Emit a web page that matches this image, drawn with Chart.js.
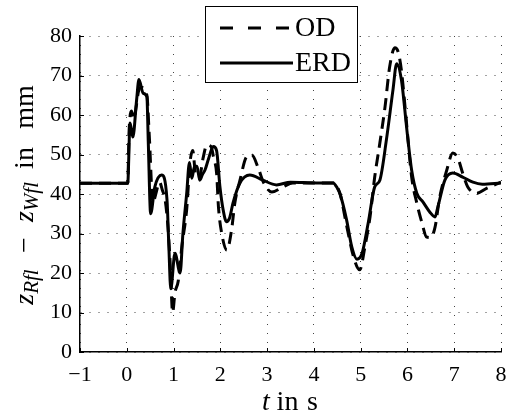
<!DOCTYPE html>
<html>
<head>
<meta charset="utf-8">
<script src="https://cdn.jsdelivr.net/npm/chart.js@4.4.1/dist/chart.umd.min.js"></script>
<style>
    html, body { margin: 0; padding: 0; background: #fff; }
    #wrap { width: 508px; height: 414px; }
</style>
</head>
<body>
<div id="wrap"><canvas id="plot" width="508" height="414"></canvas></div>
<script>
/* ==========================================================
   Suspension travel: OD vs ERD
========================================================== */

const xTicks = [-1, 0, 1, 2, 3, 4, 5, 6, 7, 8];
const yTicks = [0, 10, 20, 30, 40, 50, 60, 70, 80];

const seriesLabels = ["OD", "ERD"];

// OD (dashed)
const odT = [-1, 0.02, 0.05, 0.1, 0.15, 0.2, 0.25, 0.3, 0.43, 0.48, 0.56, 0.62, 0.7, 0.76, 0.82, 0.88, 0.93, 0.98,
    1.03, 1.1, 1.18, 1.28, 1.35, 1.41, 1.47, 1.55, 1.63, 1.71, 1.8, 1.86, 1.92, 1.96, 2.03, 2.14, 2.24, 2.31, 2.42,
    2.56, 2.67, 2.81, 2.92, 3.1, 3.34, 3.55, 4.41, 4.56, 4.7, 4.85, 4.98, 5.09, 5.2, 5.3, 5.41, 5.52, 5.62, 5.73,
    5.8, 5.87, 5.98, 6.09, 6.2, 6.31, 6.41, 6.5, 6.59, 6.69, 6.84, 6.97, 7.08, 7.18, 7.29, 7.48, 7.7, 8];
const odV = [42.7, 42.7, 56, 61, 59, 62, 66, 67, 65, 55, 37.7, 40, 43, 41, 38.5, 31.7, 22, 10,
    15, 18, 27, 36, 47.8, 51, 45, 44, 49, 52.4, 52, 49, 45.3, 36.7, 30, 25.8, 30.9, 37.7, 43.5,
    49.4, 49.9, 46.6, 43, 40.5, 41.8, 42.8, 42.8, 40, 32, 24, 20.8, 26.6, 34.2, 44.3, 52.9, 62, 72.2, 77,
    76, 71.4, 58, 44.3, 37.7, 32.7, 29.1, 29, 31.6, 39.2, 46, 50.4, 49, 45.3, 41.8, 40.2, 41.5, 43];

// ERD (solid)
const erdT = [-1, 0.02, 0.07, 0.13, 0.21, 0.26, 0.35, 0.43, 0.46, 0.51, 0.6, 0.745, 0.86, 0.9, 0.94, 1.03, 1.14,
    1.2, 1.28, 1.34, 1.39, 1.45, 1.5, 1.56, 1.62, 1.67, 1.75, 1.85, 1.92, 1.99, 2.06, 2.13, 2.2, 2.27, 2.42, 2.63,
    2.91, 3.2, 3.5, 4.06, 4.41, 4.5, 4.56, 4.7, 4.81, 4.92, 5.03, 5.16, 5.3, 5.41, 5.55, 5.69, 5.77, 5.87, 5.99,
    6.09, 6.2, 6.33, 6.48, 6.59, 6.65, 6.8, 6.97, 7.18, 7.4, 7.6, 8];
const erdV = [42.7, 42.7, 58, 54.4, 63.8, 69, 65.5, 64.6, 53, 35, 41.8, 44.8, 38.5, 26.6, 16, 25, 20,
    30, 40, 48, 44, 47, 47, 43.5, 45, 46, 49, 52, 51, 42, 36, 33, 34, 37.7, 42.8, 44.8,
    43.5, 42.3, 43, 42.8, 42.8, 41.5, 40, 33.4, 26.6, 23.5, 25, 32.6, 41.8, 43.5, 53.7, 66.3, 73, 69, 56,
    46, 40.2, 38, 35.4, 34.2, 36.7, 43.5, 45.3, 44.3, 43, 42.5, 42.8];

const toPoints = (ts, vs) => ts.map((t, i) => ({ x: t, y: vs[i] }));

const SERIF = "'Liberation Serif', 'DejaVu Serif', serif";
const DASH = [12, 7];

const fmtTick = (v) => (v < 0 ? "\u2212" + Math.abs(v) : String(v));

// axis titles: italic math with subscripts, pieces spaced like the LaTeX original
const titlesPlugin = {
    id: "mathTitles",
    afterDraw(chart) {
        const ctx = chart.ctx;
        const area = chart.chartArea;

        const it = "italic 28px " + SERIF;
        const rm = "28px " + SERIF;
        const sub = "italic 21px " + SERIF;

        // groups: [centre along the run, pieces]
        const drawGroups = (groups) => {
            groups.forEach(([c, pieces]) => {
                let w = 0;
                pieces.forEach((p) => { ctx.font = p.font; p.w = ctx.measureText(p.text).width; w += p.w; });
                let x = c - w / 2;
                pieces.forEach((p) => {
                    ctx.font = p.font;
                    ctx.fillText(p.text, x, p.dy || 0);
                    x += p.w;
                });
            });
        };

        ctx.save();
        ctx.fillStyle = "#000";
        ctx.textBaseline = "alphabetic";

        // x title
        ctx.save();
        ctx.translate(0, 410);
        drawGroups([
            [266, [{ text: "t", font: it }]],
            [287.5, [{ text: "in", font: rm }]],
            [312.5, [{ text: "s", font: rm }]]
        ]);
        ctx.restore();

        // y title, rotated
        const cy = 197;
        ctx.save();
        ctx.translate(33, cy);
        ctx.rotate(-Math.PI / 2);
        drawGroups([
            [cy - 287, [{ text: "z", font: it }, { text: "Rfl", font: sub, dy: 5 }]],
            [cy - 245, [{ text: "\u2212", font: rm }]],
            [cy - 202, [{ text: "z", font: it }, { text: "Wfl", font: sub, dy: 5 }]],
            [cy - 158, [{ text: "in", font: rm }]],
            [cy - 107, [{ text: "mm", font: rm }]]
        ]);
        ctx.restore();

        // small inward ticks
        const xs = chart.scales.x, ys = chart.scales.y;
        ctx.strokeStyle = "#000";
        ctx.lineWidth = 1;
        ctx.beginPath();
        xTicks.forEach((t) => {
            const px = Math.round(xs.getPixelForValue(t)) + 0.5;
            ctx.moveTo(px, area.bottom);
            ctx.lineTo(px, area.bottom - 4);
        });
        yTicks.forEach((v) => {
            const py = Math.round(ys.getPixelForValue(v)) + 0.5;
            ctx.moveTo(area.left, py);
            ctx.lineTo(area.left + 4, py);
        });
        ctx.stroke();
        ctx.restore();
    }
};

// boxed legend overlapping the top of the plot
const legendPlugin = {
    id: "boxLegend",
    afterDraw(chart) {
        const ctx = chart.ctx;
        const box = { x: 205.5, y: 6.5, w: 152, h: 76 };
        ctx.save();
        ctx.fillStyle = "#fff";
        ctx.fillRect(box.x, box.y, box.w, box.h);
        ctx.strokeStyle = "#000";
        ctx.lineWidth = 1;
        ctx.strokeRect(box.x, box.y, box.w, box.h);

        chart.data.datasets.forEach((ds, i) => {
            const y = 28 + i * 35;
            ctx.beginPath();
            ctx.lineWidth = 3;
            ctx.setLineDash(ds.borderDash ? [13, 15] : []);
            ctx.moveTo(220, y);
            ctx.lineTo(ds.borderDash ? 295 : 293, y);
            ctx.stroke();
            ctx.setLineDash([]);
            ctx.fillStyle = "#000";
            ctx.font = "28px " + SERIF;
            ctx.textBaseline = "middle";
            ctx.fillText(ds.label, 295, y + 1);
        });
        ctx.restore();
    }
};

new Chart(document.getElementById("plot").getContext("2d"), {
    type: "line",
    data: {
        datasets: [
            {
                label: seriesLabels[0],
                data: toPoints(odT, odV),
                borderColor: "#000",
                borderWidth: 3,
                borderDash: DASH,
                pointRadius: 0,
                cubicInterpolationMode: "monotone"
            },
            {
                label: seriesLabels[1],
                data: toPoints(erdT, erdV),
                borderColor: "#000",
                borderWidth: 3,
                pointRadius: 0,
                cubicInterpolationMode: "monotone"
            }
        ]
    },
    options: {
        responsive: false,
        animation: false,
        layout: { padding: { left: 0, top: 36, right: 7, bottom: 0 } },
        plugins: {
            legend: { display: false },
            tooltip: { enabled: false }
        },
        scales: {
            x: {
                type: "linear",
                min: -1,
                max: 8,
                afterFit: (s) => { s.height = 62; s.paddingLeft = 0; s.paddingRight = 0; },
                afterBuildTicks: (s) => { s.ticks = xTicks.map((v) => ({ value: v })); },
                grid: { color: "#444", drawTicks: false, lineWidth: 1 },
                border: { display: true, color: "#000", width: 1.5, dash: [1, 8] },
                ticks: {
                    color: "#000",
                    padding: 10,
                    font: { family: SERIF, size: 22 },
                    callback: fmtTick
                }
            },
            y: {
                min: 0,
                max: 80,
                afterFit: (s) => { s.width = 80; s.paddingTop = 0; s.paddingBottom = 0; },
                afterBuildTicks: (s) => { s.ticks = yTicks.map((v) => ({ value: v })); },
                grid: { color: "#444", drawTicks: false, lineWidth: 1 },
                border: { display: true, color: "#000", width: 1.5, dash: [1, 8] },
                ticks: {
                    color: "#000",
                    padding: 8,
                    font: { family: SERIF, size: 22 },
                    callback: fmtTick
                }
            }
        }
    },
    plugins: [titlesPlugin, legendPlugin]
});
</script>
</body>
</html>
